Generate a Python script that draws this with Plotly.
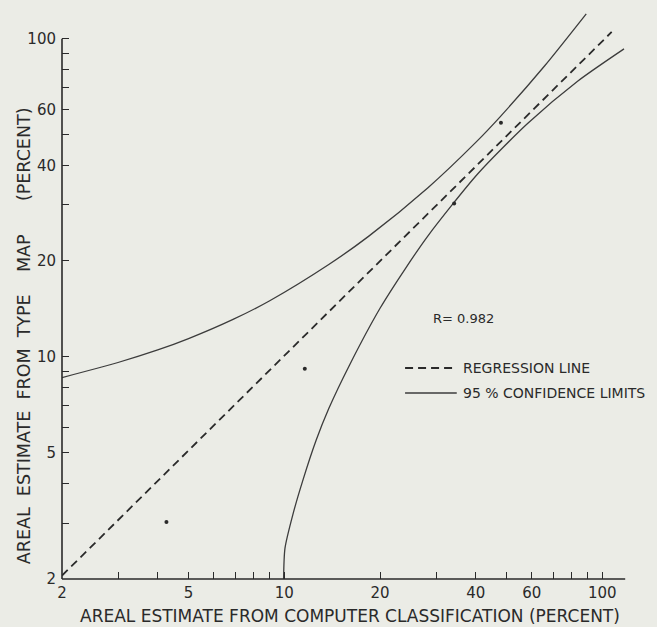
import math
import plotly.graph_objects as go

# ---- data (log-log, percent) ----
obs_x = [4.26, 11.6, 34.2, 48.0]
obs_y = [3.02, 9.16, 30.3, 54.4]

reg_x = [2.0, 107.0]
reg_y = [2.05, 105.0]

upper_x = [2.0, 3.0, 4.0, 5.0, 6.9, 9.0, 13.8, 18.4, 28.3, 40.0, 47.7, 65.9, 89.0]
upper_y = [8.6, 9.59, 10.5, 11.4, 13.1, 15.0, 19.5, 23.9, 34.0, 47.2, 56.8, 82.2, 119.7]

lower_x = [9.95, 10.05, 10.65, 11.45, 12.6, 13.8, 16.0, 20.0, 24.0, 28.3, 40.6, 58.2, 83.6, 117.0]
lower_y = [2.0, 2.5, 3.2, 4.1, 5.47, 6.87, 9.37, 14.2, 18.9, 24.0, 37.6, 54.1, 73.5, 92.9]

tick_vals = [2, 3, 4, 5, 6, 7, 8, 9, 10, 20, 30, 40, 50, 60, 70, 80, 90, 100]
x_labeled = [2, 5, 10, 20, 40, 60, 100]
y_labeled = [2, 5, 10, 20, 40, 60, 100]

x_title = "AREAL ESTIMATE FROM COMPUTER CLASSIFICATION (PERCENT)"
y_title = ("AREAL\u00a0\u00a0ESTIMATE\u00a0\u00a0FROM\u00a0\u00a0TYPE"
           "\u00a0\u00a0\u00a0\u00a0MAP\u00a0\u00a0\u00a0\u00a0\u00a0\u00a0(PERCENT)")
r_text = "R= 0.982"
legend_reg = "REGRESSION LINE"
legend_conf = "95 % CONFIDENCE LIMITS"

# ---- style ----
BG = "#ebece6"
INK = "#2a2a2a"
LINE = "#3c3c3c"
FONT = "DejaVu Sans"

x_range = [math.log10(2), 2.087]
y_range = [math.log10(2), 2.106]


def xfrac(v):
    return (math.log10(v) - x_range[0]) / (x_range[1] - x_range[0])


def yfrac(v):
    return (math.log10(v) - y_range[0]) / (y_range[1] - y_range[0])


fig = go.Figure()

fig.add_trace(go.Scatter(x=upper_x, y=upper_y, mode="lines",
                         line=dict(color=LINE, width=1.3, shape="spline", smoothing=0.7),
                         hoverinfo="skip", showlegend=False))
fig.add_trace(go.Scatter(x=lower_x, y=lower_y, mode="lines",
                         line=dict(color=LINE, width=1.3, shape="spline", smoothing=0.7),
                         hoverinfo="skip", showlegend=False))
fig.add_trace(go.Scatter(x=reg_x, y=reg_y, mode="lines",
                         line=dict(color=INK, width=1.8, dash="8px,5px"),
                         hoverinfo="skip", showlegend=False))
fig.add_trace(go.Scatter(x=obs_x, y=obs_y, mode="markers",
                         marker=dict(color=INK, size=4),
                         hoverinfo="skip", showlegend=False))

tick_text_x = [str(v) if v in x_labeled else "" for v in tick_vals]
tick_text_y = [str(v) if v in y_labeled else "" for v in tick_vals]

fig.update_xaxes(type="log", range=x_range, tickmode="array", tickvals=tick_vals,
                 ticktext=tick_text_x, ticks="inside", ticklen=7, tickwidth=1.3,
                 tickcolor=INK, showgrid=False, showline=False, zeroline=False,
                 ticklabelstandoff=3,
                 tickfont=dict(family=FONT, size=15, color=INK))
fig.update_yaxes(type="log", range=y_range, tickmode="array", tickvals=tick_vals,
                 ticktext=tick_text_y, ticks="inside", ticklen=7, tickwidth=1.3,
                 tickcolor=INK, showgrid=False, showline=False, zeroline=False,
                 ticklabelstandoff=5,
                 tickfont=dict(family=FONT, size=15, color=INK))

shapes = [
    # axis lines
    dict(type="line", xref="paper", yref="paper", x0=0, x1=0, y0=0, y1=yfrac(100),
         line=dict(color=INK, width=1.6)),
    dict(type="line", xref="paper", yref="paper", x0=0, x1=xfrac(118), y0=0, y1=0,
         line=dict(color=INK, width=1.6)),
    # legend samples
    dict(type="line", xref="paper", yref="paper", x0=0.604, x1=0.695, y0=0.3676, y1=0.3676,
         line=dict(color=INK, width=1.8, dash="8px,5px")),
    dict(type="line", xref="paper", yref="paper", x0=0.604, x1=0.695, y0=0.324, y1=0.324,
         line=dict(color=LINE, width=1.3)),
]

annotations = [
    dict(text=x_title, xref="paper", yref="paper", x=0.507, y=-0.0645,
         xanchor="center", yanchor="middle", showarrow=False,
         font=dict(family=FONT, size=17, color=INK)),
    dict(text=y_title, xref="paper", yref="paper", x=-0.0669, y=0.423,
         xanchor="center", yanchor="middle", showarrow=False, textangle=-90,
         font=dict(family=FONT, size=17.5, color=INK)),
    dict(text=r_text, xref="paper", yref="paper", x=0.65, y=0.4547,
         xanchor="left", yanchor="middle", showarrow=False,
         font=dict(family=FONT, size=13, color=INK)),
    dict(text=legend_reg, xref="paper", yref="paper", x=0.7025, y=0.3676,
         xanchor="left", yanchor="middle", showarrow=False,
         font=dict(family=FONT, size=14, color=INK)),
    dict(text=legend_conf, xref="paper", yref="paper", x=0.7025, y=0.324,
         xanchor="left", yanchor="middle", showarrow=False,
         font=dict(family=FONT, size=14, color=INK)),
]

fig.update_layout(width=657, height=627,
                  margin=dict(l=62, r=27, t=5, b=48),
                  paper_bgcolor=BG, plot_bgcolor=BG,
                  showlegend=False, shapes=shapes, annotations=annotations)

fig.write_html("out.html", config={"displayModeBar": False},
               post_script="document.body.style.margin='0';"
                           "document.body.style.background='" + BG + "';")
